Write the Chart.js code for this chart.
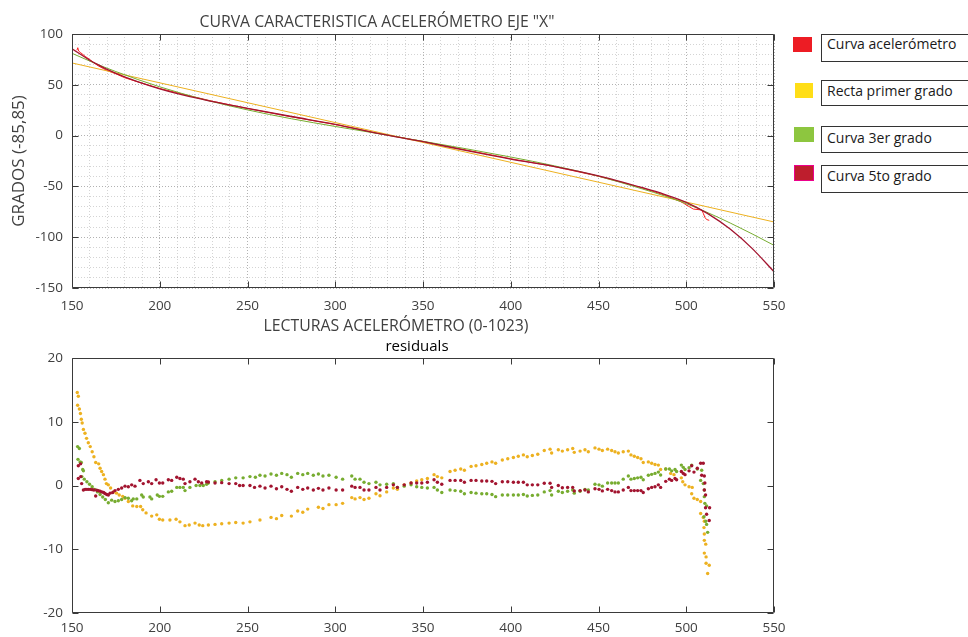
<!DOCTYPE html>
<html>
<head>
<meta charset="utf-8">
<script src="https://cdn.jsdelivr.net/npm/chart.js@4.4.0/dist/chart.umd.min.js"></script>
<style>
body{margin:0;background:#fff;font-family:"Open Sans",sans-serif;color:#404040}
#lienzo{position:relative;width:968px;height:637px;overflow:hidden}
canvas{position:absolute;left:0}
.txt{position:absolute;white-space:nowrap;line-height:18px}
.cuadro{position:absolute;width:19px;height:15px;box-sizing:border-box}
.caja{position:absolute;left:821px;width:170px;border:1px solid #333;box-sizing:border-box;font-size:14px;line-height:17px;padding-left:5px;color:#1a1a1a}
</style>
</head>
<body>
<div id="lienzo">
  <canvas id="graficaCurvas" width="790" height="322" style="top:0"></canvas>
  <canvas id="graficaResiduos" width="790" height="299" style="top:338px"></canvas>

  <div class="txt" style="left:177px;width:400px;text-align:center;top:12px;font-size:15.8px">CURVA CARACTERISTICA ACELERÓMETRO EJE "X"</div>
  <div class="txt" style="left:196px;width:400px;text-align:center;top:316px;font-size:15.8px">LECTURAS ACELERÓMETRO (0-1023)</div>
  <div class="txt" style="left:317px;width:200px;text-align:center;top:336px;font-size:15px;color:#000">residuals</div>

  <!-- leyenda -->
  <div class="cuadro" style="left:793px;top:37px;background:#ed1c24"></div>
  <div class="caja" style="top:34px;height:28px">Curva acelerómetro</div>
  <div class="cuadro" style="left:795px;top:83px;width:18px;background:#ffde17"></div>
  <div class="caja" style="top:80px;height:26px;padding-top:1px">Recta primer grado</div>
  <div class="cuadro" style="left:794px;top:127px;width:20px;background:#8dc63f"></div>
  <div class="caja" style="top:126px;height:27px;padding-top:2px">Curva 3er grado</div>
  <div class="cuadro" style="left:794px;top:165px;width:20px;height:16px;background:#be1e2d;border:1px solid #ec008c"></div>
  <div class="caja" style="top:165px;height:28px;padding-top:1px">Curva 5to grado</div>
</div>

<script>
// lecturas del acelerometro vs grados (curva medida)
var medicion = [[152.8,84.0],[153.3,86.5],[153.8,83.2],[155,81.5],[157.5,78.0],[160,75.0],[162.5,71.6],[165,68.6],
  [170,64.0],[175,60.8],[180,57.0],[190,51.5],[200,46.4],[215,40.0],[230,33.8],[250,26.7],[275,18.5],[300,10.9],
  [325,2.0],[350,-5.8],[375,-14.3],[400,-22.8],[425,-30.5],[450,-40.0],[475,-51.5],[488,-58.8],[493.6,-62.8],
  [496.4,-64.6],[498.3,-66.4],[504,-72.3],[508.8,-73.2],[509.7,-76.4],[510.6,-80.4],[511.6,-82.6],[513.1,-83.4]];

// ajustes
var rectaX = [150, 550];
var rectaY = [71.5, -85];
var ajusteX = [150,162.5,175,200,225,250,275,300,325,350,375,400,425,450,475,487.5,500,512.5,525,537.5,550];
var ajusteCubico = [81,71.6,63,48,35.6,25.3,16.6,9.0,1.8,-5.6,-13.1,-21.1,-29.8,-40.0,-52.5,-59.3,-67,-76,-86,-96.7,-108];
var ajusteQuinto = [85.5,71.8,61.3,46.1,35.4,26.8,18.8,11.1,2.0,-6.0,-14.8,-23.1,-30.5,-39.6,-51.3,-57.8,-65.7,-77,-92,-111,-134];

// residuos [lectura, residuo]
var residLineal = [[153.0,14.6],[153.6,14.0],[153.2,12.6],[154.2,12.0],[154.8,11.3],[155.3,10.4],[155.8,9.8],[156.5,8.8],
  [157.4,8.2],[158.3,7.4],[159.3,6.7],[160.4,6.1],[161.5,5.3],[162.5,4.5],[163.5,3.6],[165.2,3.4],[166.0,2.7],[166.9,2.2],
  [167.9,1.7],[168.8,1.0],[169.6,0.3],[170.7,0.1],[172.0,-0.4],[173.6,-1.0],[175.4,-1.2],[176.9,-1.5],[178.9,-1.7],
  [180.2,-2.0],[182.1,-2.5],[184.6,-3.2],[186.9,-3.3],[189.1,-3.3],[190.3,-3.8],[192.2,-4.3],[195.4,-4.8],[198.3,-4.6],
  [199.8,-5.3],[201.7,-5.4],[205.8,-5.4],[209.3,-5.3],[211.5,-5.7],[214.4,-6.3],[216.8,-6.2],[220.1,-5.9],[222.5,-6.2],
  [224.5,-6.3],[227.7,-6.2],[231.5,-6.1],[235.3,-6.0],[239.5,-5.9],[243.3,-5.8],[247.5,-5.9],[251.4,-5.7],[257.1,-5.4],
  [263.4,-5.0],[266.5,-5.2],[269.5,-4.7],[275.0,-4.8],[278.6,-4.0],[281.5,-4.2],[284.3,-3.7],[290.4,-3.4],[293.0,-3.6],
  [296.4,-3.0],[300.5,-3.0],[304.2,-2.8],[309.4,-1.9],[311.3,-2.1],[314.1,-1.9],[316.4,-2.2],[319.2,-2.0],[323.2,-1.3],
  [325.5,-1.6],[329.3,-1.0],[333.1,-0.4],[335.4,-0.6],[339.3,0.1],[343.2,0.4],[346.4,0.7],[349.3,0.9],[352.5,1.1],
  [356.3,1.7],[358.2,1.4],[360.7,1.2],[365.4,2.2],[368.3,2.4],[371.5,2.6],[373.6,2.4],[377.4,3.0],[380.2,3.1],[383.5,3.3],
  [386.3,3.5],[389.3,3.7],[391.4,3.5],[395.2,4.0],[398.3,4.2],[401.5,4.4],[404.3,4.6],[407.2,4.8],[409.4,4.5],[412.3,4.7],
  [415.4,4.9],[419.1,5.5],[422.4,5.7],[423.3,5.1],[427.1,5.6],[429.4,5.4],[432.4,5.6],[435.3,5.8],[436.2,5.2],[439.5,5.4],
  [442.3,5.6],[444.2,5.3],[448.0,5.9],[450.3,5.7],[452.2,5.5],[455.2,5.7],[457.5,5.5],[459.4,5.3],[461.3,5.1],[464.1,5.3],
  [467.0,5.4],[468.5,4.8],[470.4,4.6],[472.3,4.4],[474.2,4.2],[475.5,3.6],[478.4,3.7],[480.3,3.5],[482.2,3.3],[484.1,3.2],
  [485.4,2.5],[488.3,2.6],[491.1,1.9],[493.0,1.7],[497.2,1.2],[498.0,0.6],[499.3,0.1],[501.6,-0.2],[503.4,-0.3],
  [503.1,-1.3],[504.4,-2.0],[506.3,-2.2],[508.2,-2.5],[508.2,-4.4],[509.7,-5.0],[510.3,-5.6],[510.1,-6.6],[510.3,-7.6],
  [510.3,-8.6],[511.1,-9.2],[510.3,-10.6],[511.3,-11.2],[511.3,-12.2],[513.1,-12.5],[512.2,-13.8]];

var residCubico = [[153.2,6.1],[154.2,5.8],[153.4,4.1],[154.6,3.7],[155.3,3.6],[156.1,2.5],[156.5,2.3],[155.6,1.4],
  [157.0,1.0],[158.5,0.6],[160.0,0.2],[161.5,-0.2],[163.0,-0.6],[164.5,-1.0],[166.0,-1.4],[167.5,-1.8],[169.0,-2.2],
  [170.7,-2.7],[172.6,-2.3],[174.5,-2.5],[176.4,-2.4],[178.3,-2.2],[180.2,-1.9],[182.1,-2.0],[184.0,-2.4],[184.9,-2.1],
  [186.9,-2.1],[189.7,-1.5],[190.6,-1.8],[194.4,-1.8],[195.4,-2.1],[198.6,-1.5],[199.8,-1.7],[201.7,-1.7],[204.9,-1.0],
  [206.8,-0.9],[209.7,-0.3],[211.5,-0.3],[213.4,-0.3],[214.4,-0.8],[217.2,-0.3],[220.7,0.0],[222.9,0.0],[224.8,0.0],
  [226.7,0.2],[227.7,0.4],[231.5,0.6],[235.3,0.8],[239.5,1.0],[243.3,1.2],[247.5,1.2],[251.4,1.4],[254.5,1.3],[257.1,1.6],
  [260.0,1.5],[263.4,1.8],[266.5,1.6],[269.5,1.9],[272.5,1.7],[275.0,1.3],[278.6,1.9],[281.5,1.7],[284.3,1.9],[287.5,1.6],
  [290.4,1.8],[293.0,1.5],[296.4,1.6],[300.5,1.3],[304.2,1.0],[309.4,1.5],[311.3,1.0],[314.1,1.0],[316.4,0.5],[319.2,0.3],
  [323.2,0.5],[325.5,0.1],[329.3,0.2],[333.1,0.3],[335.4,-0.3],[339.3,-0.1],[343.2,0.1],[346.4,-0.2],[349.3,-0.3],
  [352.5,-0.4],[356.3,-0.3],[358.2,-0.7],[360.7,-1.1],[365.4,-0.7],[368.3,-0.8],[371.5,-0.9],[373.6,-1.3],[377.4,-1.1],
  [380.2,-1.2],[383.5,-1.3],[386.3,-1.3],[389.3,-1.4],[391.4,-1.75],[395.2,-1.5],[398.3,-1.5],[401.5,-1.5],[404.3,-1.5],
  [407.2,-1.4],[409.4,-1.65],[412.3,-1.55],[415.4,-1.5],[419.1,-1.0],[422.4,-0.8],[423.3,-1.5],[427.1,-0.9],[429.4,-1.1],
  [432.4,-0.9],[435.3,-0.7],[436.2,-1.2],[439.5,-0.9],[442.3,-0.6],[444.2,-0.7],[448.0,0.2],[450.3,0.1],[452.2,-0.1],
  [455.2,0.4],[457.5,0.4],[459.4,0.4],[461.3,0.4],[464.1,1.0],[467.0,1.5],[468.5,1.0],[470.4,1.1],[472.3,1.2],[474.2,1.3],
  [475.5,0.9],[478.4,1.6],[480.3,1.75],[482.2,1.9],[484.1,2.1],[485.4,1.65],[488.3,2.6],[490.4,2.6],[491.7,2.3],
  [493.6,2.5],[494.5,2.2],[497.2,3.2],[498.3,2.85],[499.3,2.5],[501.6,2.8],[503.1,3.2],[506.3,2.6],[508.8,2.4],
  [508.2,0.8],[509.7,0.3],[510.3,-0.7],[510.3,-1.75],[510.6,-2.8],[511.6,-3.2],[510.1,-4.9],[511.1,-5.6],[511.6,-6.1],
  [512.2,-7.35]];

var residQuinto = [[153.6,3.1],[154.9,3.4],[153.6,1.1],[155.0,1.4],[155.5,0.3],[156.5,-0.7],[157.5,-0.6],[158.5,-0.6],
  [159.5,-0.6],[160.5,-0.6],[161.5,-0.65],[162.5,-0.7],[163.5,-1.65],[164.1,-0.75],[165.0,-0.8],[166.0,-0.9],[167.0,-1.0],
  [168.0,-1.1],[168.8,-1.25],[169.8,-1.4],[170.7,-1.5],[171.7,-1.2],[173.2,-1.1],[174.5,-0.8],[176.4,-0.6],[178.3,-0.4],
  [180.2,-0.1],[182.1,-0.2],[184.0,0.1],[185.9,-0.1],[188.7,0.8],[190.6,0.3],[193.5,0.6],[195.4,0.3],[197.9,0.9],
  [199.8,0.4],[201.7,0.4],[204.9,0.9],[206.8,0.8],[209.7,1.3],[211.5,1.1],[213.4,1.0],[214.4,0.3],[217.2,0.6],[220.1,1.0],
  [222.0,0.6],[223.9,0.4],[226.7,0.6],[227.7,0.55],[231.5,0.4],[235.3,0.45],[239.5,0.3],[243.3,0.3],[245.5,0.0],
  [247.5,0.0],[251.4,0.0],[254.0,-0.3],[257.1,-0.1],[260.0,-0.4],[263.4,-0.1],[266.5,-0.5],[269.5,-0.2],[272.5,-0.6],
  [275.0,-0.9],[278.6,-0.3],[281.5,-0.6],[284.3,-0.4],[287.5,-0.7],[290.4,-0.45],[293.0,-0.7],[296.4,-0.4],[300.5,-0.7],
  [304.2,-0.7],[309.4,-0.1],[311.3,-0.3],[314.1,-0.3],[316.4,-0.7],[319.2,-0.7],[323.2,-0.3],[325.5,-0.7],[329.3,-0.3],
  [333.1,0.1],[335.4,-0.3],[339.3,0.1],[343.2,0.4],[346.4,0.4],[349.3,0.4],[352.5,0.5],[356.3,0.9],[358.2,0.5],
  [360.7,0.2],[365.4,0.8],[368.3,0.8],[371.5,0.8],[373.6,0.5],[377.4,0.8],[380.2,0.8],[383.5,0.7],[386.3,0.7],
  [389.3,0.65],[391.4,0.3],[395.2,0.6],[398.3,0.6],[401.5,0.5],[404.3,0.5],[407.2,0.5],[409.4,0.1],[412.3,0.1],
  [415.4,0.1],[419.1,0.35],[422.4,0.35],[423.3,-0.3],[427.1,0.0],[429.4,-0.35],[432.4,-0.3],[435.3,-0.3],[436.2,-0.85],
  [439.5,-0.8],[442.3,-0.7],[444.2,-1.0],[448.0,-0.5],[450.3,-0.6],[452.2,-0.85],[455.2,-0.6],[457.5,-0.8],[459.4,-1.0],
  [461.3,-1.0],[464.1,-0.7],[467.0,-0.3],[468.5,-0.8],[470.4,-0.8],[472.3,-0.8],[474.2,-0.8],[475.5,-1.1],[478.4,-0.5],
  [480.3,-0.3],[482.2,-0.2],[484.1,0.1],[485.4,-0.3],[488.3,0.65],[490.4,1.0],[491.7,0.8],[493.6,1.1],[494.5,0.9],
  [497.2,2.2],[498.3,1.9],[499.3,1.7],[501.6,2.3],[503.1,3.1],[504.4,2.1],[506.3,2.7],[508.2,3.5],[509.7,3.5],
  [508.8,1.6],[510.3,1.5],[510.6,0.4],[510.3,-0.7],[511.0,-1.5],[511.0,-3.5],[513.3,-3.5],[511.6,-4.5],[513.1,-5.5]];

// marcas de los ejes
var ticksX = [150,200,250,300,350,400,450,500,550];
var ticksGrados = [-150,-100,-50,0,50,100];
var ticksResid = [-20,-10,0,10,20];

var AMARILLO = '#edb120', VERDE = '#77ac30', GRANATE = '#a2142f', ROJO = '#ff1f1f';

Chart.defaults.font.family = '"Open Sans", sans-serif';
Chart.defaults.color = '#404040';

function puntos(xs, ys) { return xs.map(function (x, i) { return {x: x, y: ys[i]}; }); }
function pares(lista) { return lista.map(function (p) { return {x: p[0], y: p[1]}; }); }

// caja tipo matlab con marcas hacia adentro
var marcoEjes = {
  id: 'marcoEjes',
  afterDraw: function (chart, args, opts) {
    var ctx = chart.ctx, a = chart.chartArea, sx = chart.scales.x, sy = chart.scales.y;
    var L = Math.round(a.left) + 0.5, R = Math.round(a.right) - 0.5;
    var T = Math.round(a.top) + 0.5, B = Math.round(a.bottom) - 0.5;
    ctx.save();
    ctx.strokeStyle = '#3a3a3a';
    ctx.lineWidth = 1;
    ctx.beginPath();
    ctx.rect(L, T, R - L, B - T);
    opts.xt.forEach(function (v) {
      var p = Math.round(sx.getPixelForValue(v)) + 0.5;
      ctx.moveTo(p, B); ctx.lineTo(p, B - 6);
      ctx.moveTo(p, T); ctx.lineTo(p, T + 6);
    });
    opts.yt.forEach(function (v) {
      var p = Math.round(sy.getPixelForValue(v)) + 0.5;
      ctx.moveTo(L, p); ctx.lineTo(L + 6, p);
      ctx.moveTo(R, p); ctx.lineTo(R - 6, p);
    });
    ctx.stroke();
    ctx.restore();
  }
};

function pasos(min, max, d) { var r = []; for (var v = min; v <= max; v += d) r.push(v); return r; }

function colorGrilla(c) {
  if (!c.tick) return 'rgba(0,0,0,0)';
  return (c.tick.value % 50 === 0) ? 'rgba(0,0,0,0.30)' : 'rgba(0,0,0,0.17)';
}

// sin relleno extra por las etiquetas de los extremos
function ajustarEjeX(alto) {
  return function (s) { s.height = alto; s.paddingLeft = 0; s.paddingRight = 0; };
}

var ctx = document.getElementById('graficaCurvas').getContext('2d');
var graficaCurvas = new Chart(ctx, {
  type: 'line',
  data: {
    datasets: [
      {label: 'Curva 5to grado', data: puntos(ajusteX, ajusteQuinto), borderColor: GRANATE, borderWidth: 1.3, cubicInterpolationMode: 'monotone'},
      {label: 'Curva 3er grado', data: puntos(ajusteX, ajusteCubico), borderColor: VERDE, borderWidth: 1, cubicInterpolationMode: 'monotone'},
      {label: 'Recta primer grado', data: puntos(rectaX, rectaY), borderColor: AMARILLO, borderWidth: 1},
      {label: 'Curva acelerómetro', data: pares(medicion), borderColor: ROJO, borderWidth: 1, tension: 0}
    ]
  },
  options: {
    responsive: false,
    devicePixelRatio: 1,
    animation: false,
    events: [],
    elements: {point: {radius: 0}},
    layout: {padding: {top: 34, right: 16, left: 0, bottom: 0}},
    plugins: {legend: {display: false}, tooltip: {enabled: false}, marcoEjes: {xt: ticksX, yt: ticksGrados}},
    scales: {
      x: {
        type: 'linear', min: 150, max: 550,
        afterBuildTicks: function (s) { s.ticks = pasos(150, 550, 10).map(function (v) { return {value: v}; }); },
        afterFit: ajustarEjeX(34),
        ticks: {autoSkip: false, maxRotation: 0, padding: 10, font: {size: 13.5},
          callback: function (v) { return ticksX.indexOf(v) >= 0 ? String(v) : ''; }},
        grid: {color: colorGrilla, lineWidth: 1, drawTicks: false},
        border: {display: false, dash: [1, 2]}
      },
      y: {
        type: 'linear', min: -150, max: 100,
        afterBuildTicks: function (s) { s.ticks = pasos(-150, 100, 10).map(function (v) { return {value: v}; }); },
        afterFit: function (s) { s.width = 72; },
        ticks: {autoSkip: false, padding: 9, font: {size: 13.5},
          callback: function (v) { return ticksGrados.indexOf(v) >= 0 ? String(v) : ''; }},
        grid: {color: colorGrilla, lineWidth: 1, drawTicks: false},
        border: {display: false, dash: [1, 2]},
        title: {display: true, text: 'GRADOS (-85,85)', font: {size: 17}, color: '#404040', padding: {top: 9, bottom: 0}}
      }
    }
  },
  plugins: [marcoEjes]
});

var ctx2 = document.getElementById('graficaResiduos').getContext('2d');
var graficaResiduos = new Chart(ctx2, {
  type: 'scatter',
  data: {
    datasets: [
      {label: 'Curva 5to grado', data: pares(residQuinto), backgroundColor: GRANATE},
      {label: 'Curva 3er grado', data: pares(residCubico), backgroundColor: VERDE},
      {label: 'Recta primer grado', data: pares(residLineal), backgroundColor: AMARILLO}
    ]
  },
  options: {
    responsive: false,
    devicePixelRatio: 1,
    animation: false,
    events: [],
    elements: {point: {radius: 1.7, borderWidth: 0}},
    layout: {padding: {top: 20, right: 16, left: 0, bottom: 0}},
    plugins: {legend: {display: false}, tooltip: {enabled: false}, marcoEjes: {xt: ticksX, yt: ticksResid}},
    scales: {
      x: {
        type: 'linear', min: 150, max: 550,
        afterBuildTicks: function (s) { s.ticks = ticksX.map(function (v) { return {value: v}; }); },
        afterFit: ajustarEjeX(24),
        ticks: {autoSkip: false, maxRotation: 0, padding: 7, font: {size: 13.5}},
        grid: {display: false, drawTicks: false},
        border: {display: false}
      },
      y: {
        type: 'linear', min: -20, max: 20,
        afterBuildTicks: function (s) { s.ticks = ticksResid.map(function (v) { return {value: v}; }); },
        afterFit: function (s) { s.width = 72; },
        ticks: {autoSkip: false, padding: 9, font: {size: 13.5}},
        grid: {display: false, drawTicks: false},
        border: {display: false}
      }
    }
  },
  plugins: [marcoEjes]
});
</script>
</body>
</html>
